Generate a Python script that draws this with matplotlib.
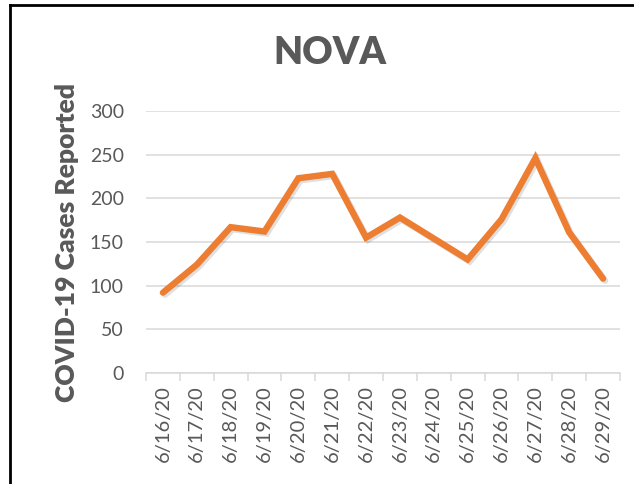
import matplotlib.pyplot as plt
import matplotlib.patheffects as pe
from matplotlib.lines import Line2D

dates = ["6/16/20", "6/17/20", "6/18/20", "6/19/20", "6/20/20", "6/21/20", "6/22/20",
         "6/23/20", "6/24/20", "6/25/20", "6/26/20", "6/27/20", "6/28/20", "6/29/20"]
cases = [92, 124, 167, 162, 223, 228, 155, 178, 154, 130, 176, 246, 161, 108]

text_col = "#595959"
grid_col = "#d9d9d9"
line_col = "#ED7D31"

plt.rcParams['font.family'] = ['Lato', 'DejaVu Sans']

fig = plt.figure(figsize=(6.34, 4.84), dpi=100)
ax = fig.add_axes([146 / 634, 1 - 373 / 484, 474 / 634, 262 / 484])

x = list(range(len(dates)))
ax.plot(x, cases, color=line_col, lw=4.6, solid_capstyle='round', solid_joinstyle='miter',
        path_effects=[pe.SimpleLineShadow(offset=(1.5, -1.5), alpha=0.12), pe.Normal()], zorder=3)

ax.set_xlim(-0.5, len(dates) - 0.5)
ax.set_ylim(0, 300)
ax.set_yticks(range(0, 301, 50))
ax.grid(axis='y', color=grid_col, lw=1.1)
ax.set_axisbelow(True)

ax.set_xticks([i - 0.5 for i in range(len(dates) + 1)], minor=False)
ax.set_xticklabels([])
ax.set_xticks(x, minor=True)
ax.set_xticklabels(dates, minor=True, rotation=90, fontsize=14.5, color=text_col)
ax.tick_params(axis='x', which='major', length=6, color=grid_col, width=1.1)
ax.tick_params(axis='x', which='minor', length=0, pad=9)
ax.tick_params(axis='y', length=0, labelsize=14, labelcolor=text_col, pad=16)

for s in ['top', 'right', 'left']:
    ax.spines[s].set_visible(False)
ax.spines['bottom'].set_color(grid_col)
ax.spines['bottom'].set_linewidth(1.1)

ax.set_ylabel("COVID-19 Cases Reported", fontsize=19, fontweight='heavy', color=text_col)
ax.yaxis.set_label_coords(-(146 - 79) / 474, 0.5)

fig.text(330 / 634, 1 - 53 / 484, "NOVA", ha='center', va='center', fontsize=27,
         fontweight='heavy', color=text_col)

# outer frame (left and top edges visible)
fig.add_artist(Line2D([9.5 / 634, 9.5 / 634], [0, 1 - 4.5 / 484], color='black', lw=2,
                      transform=fig.transFigure))
fig.add_artist(Line2D([9.5 / 634, 1], [1 - 4.5 / 484, 1 - 4.5 / 484], color='black', lw=2,
                      transform=fig.transFigure))

fig.savefig("out.png", dpi=100)
